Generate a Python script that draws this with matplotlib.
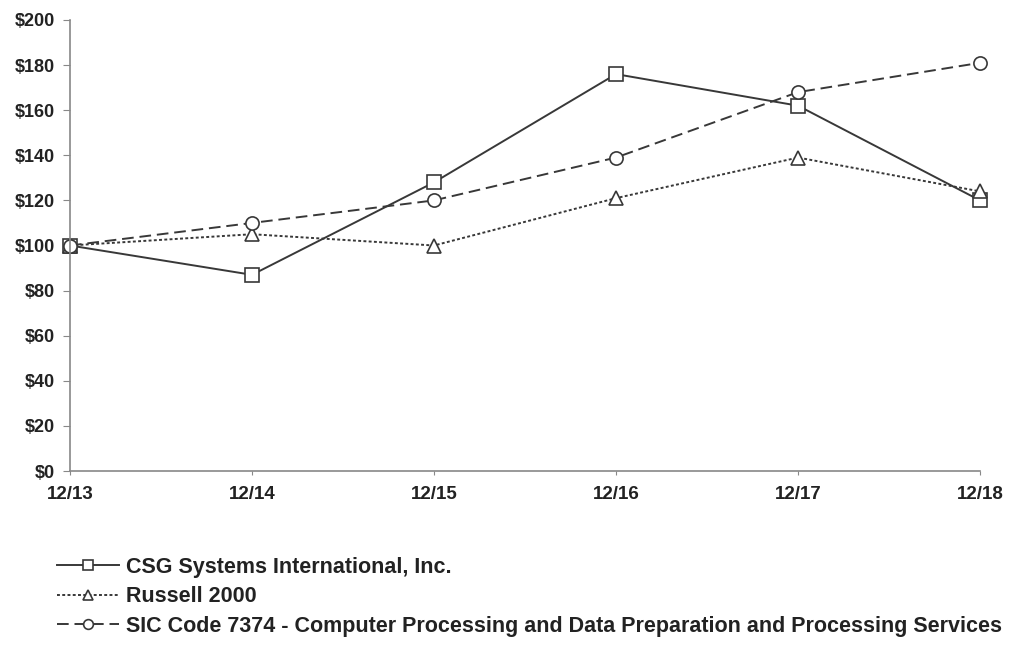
import matplotlib
matplotlib.use("Agg")
import matplotlib.pyplot as plt
from matplotlib.ticker import FuncFormatter

plt.rcParams['font.family'] = ['Liberation Sans', 'DejaVu Sans']

periods = ["12/13", "12/14", "12/15", "12/16", "12/17", "12/18"]
csg = [100, 87, 128, 176, 162, 120]
russell = [100, 105, 100, 121, 139, 124]
sic = [100, 110, 120, 139, 168, 181]
y_ticks = [0, 20, 40, 60, 80, 100, 120, 140, 160, 180, 200]

labels = ["CSG Systems International, Inc.",
          "Russell 2000",
          "SIC Code 7374 - Computer Processing and Data Preparation and Processing Services"]

fig = plt.figure(figsize=(10.09, 6.52), dpi=100)
ax = fig.add_axes([70/1009, 1-471/652, 910/1009, 451/652])

x = list(range(len(periods)))
lc = "#383838"
common = dict(color=lc, lw=1.4, ms=9.5, mfc='white', mec=lc, mew=1.2, clip_on=False)
l1, = ax.plot(x, csg, ls='-', marker='s', **common)
l2, = ax.plot(x, russell, ls=(0, (1.5, 1.2)), marker='^', **common)
l3, = ax.plot(x, sic, ls=(0, (6, 3)), marker='o', **common)

ax.set_xlim(0, len(periods)-1)
ax.set_ylim(0, 200)
ax.set_yticks(y_ticks)
ax.yaxis.set_major_formatter(FuncFormatter(lambda v, p: f"${int(v)}"))
ax.set_xticks(x)
ax.set_xticklabels(periods)
for s in ['top', 'right']:
    ax.spines[s].set_visible(False)
for s in ['left', 'bottom']:
    ax.spines[s].set_color('#888888')
    ax.spines[s].set_linewidth(1.2)
ax.tick_params(axis='y', length=5, color='#888888', labelsize=13, pad=6)
ax.tick_params(axis='x', length=3, color='#888888', labelsize=13.5, pad=8, direction='out')
for t in ax.get_xticklabels() + ax.get_yticklabels():
    t.set_fontweight('bold')
    t.set_color('#222222')

leg = fig.legend([l1, l2, l3], labels, loc='upper left', bbox_to_anchor=(48/1009, 1-548/652),
                 frameon=False, numpoints=1, handlelength=2.9, handletextpad=0.33,
                 labelspacing=0.4, borderaxespad=0, borderpad=0.4,
                 prop={'weight': 'bold', 'size': 15.5})
for h in leg.legend_handles:
    h.set_markersize(7)
for t in leg.get_texts():
    t.set_color('#222222')

fig.savefig("out.png", dpi=100, facecolor='white')
